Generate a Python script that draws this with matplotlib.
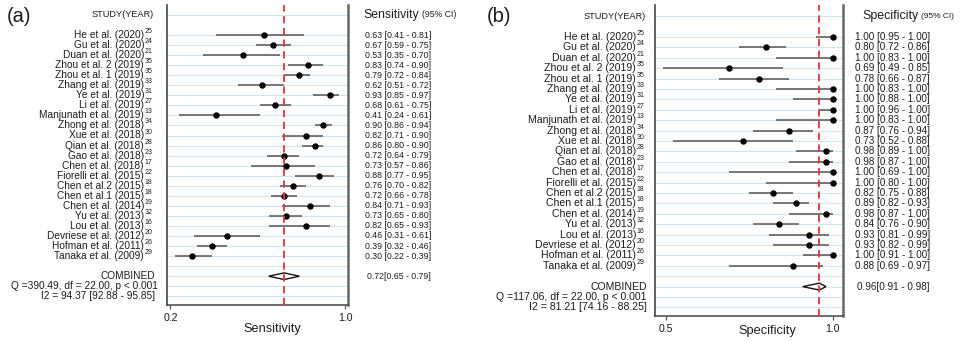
import matplotlib
matplotlib.use('Agg')
import matplotlib.pyplot as plt
from matplotlib.patches import Polygon

plt.rcParams['font.family'] = ['Liberation Sans', 'DejaVu Sans']

W, H = 965, 342

studies = ["He et al. (2020)", "Gu et al. (2020)", "Duan et al. (2020)", "Zhou et al. 2 (2019)",
           "Zhou et al. 1 (2019)", "Zhang et al. (2019)", "Ye et al. (2019)", "Li et al. (2019)",
           "Manjunath et al. (2019)", "Zhong et al. (2018)", "Xue et al. (2018)", "Qian et al. (2018)",
           "Gao et al. (2018)", "Chen et al. (2018)", "Fiorelli et al. (2015)", "Chen et al.2 (2015)",
           "Chen et al.1 (2015)", "Chen et al. (2014)", "Yu et al. (2013)", "Lou et al. (2013)",
           "Devriese et al. (2012)", "Hofman et al. (2011)", "Tanaka et al. (2009)"]
refs = ["25", "24", "21", "35", "35", "33", "31", "27", "13", "34", "30", "28", "23", "17",
        "22", "18", "18", "19", "32", "16", "20", "26", "29"]

sens = [0.63, 0.67, 0.53, 0.83, 0.79, 0.62, 0.93, 0.68, 0.41, 0.90, 0.82, 0.86, 0.72, 0.73,
        0.88, 0.76, 0.72, 0.84, 0.73, 0.82, 0.46, 0.39, 0.30]
sens_lo = [0.41, 0.59, 0.35, 0.74, 0.72, 0.51, 0.85, 0.61, 0.24, 0.86, 0.71, 0.80, 0.64, 0.57,
           0.77, 0.70, 0.66, 0.71, 0.65, 0.65, 0.31, 0.32, 0.22]
sens_hi = [0.81, 0.75, 0.70, 0.90, 0.84, 0.72, 0.97, 0.75, 0.61, 0.94, 0.90, 0.90, 0.79, 0.86,
           0.95, 0.82, 0.78, 0.93, 0.80, 0.93, 0.61, 0.46, 0.39]
sens_comb = (0.72, 0.65, 0.79)
sens_stats = ["Q =390.49, df = 22.00, p < 0.001", "I2 = 94.37 [92.88 - 95.85]"]

spec = [1.00, 0.80, 1.00, 0.69, 0.78, 1.00, 1.00, 1.00, 1.00, 0.87, 0.73, 0.98, 0.98, 1.00,
        1.00, 0.82, 0.89, 0.98, 0.84, 0.93, 0.93, 1.00, 0.88]
spec_lo = [0.95, 0.72, 0.83, 0.49, 0.66, 0.83, 0.88, 0.96, 0.83, 0.76, 0.52, 0.89, 0.87, 0.69,
           0.80, 0.75, 0.82, 0.87, 0.76, 0.81, 0.82, 0.91, 0.69]
spec_hi = [1.00, 0.86, 1.00, 0.85, 0.87, 1.00, 1.00, 1.00, 1.00, 0.94, 0.88, 1.00, 1.00, 1.00,
           1.00, 0.88, 0.93, 1.00, 0.90, 0.99, 0.99, 1.00, 0.97]
spec_comb = (0.96, 0.91, 0.98)
spec_stats = ["Q =117.06, df = 22.00, p < 0.001", "I2 = 81.21 [74.16 - 88.25]"]

fig = plt.figure(figsize=(W / 100, H / 100), dpi=100)
TXT = '#1c1c1c'


def fx(px):
    return px / W


def fy(py):
    return 1 - py / H


def panel(tag, tag_x, est, lo, hi, comb, stats, metric, ticks,
          left, right, top, bottom, row0, sp, xlim,
          lab_right, stat_right, val_x, hdr_x, fs_lab, fs_val, fs_hdr, fs_ci,
          xlabel_pos):
    ax = fig.add_axes([fx(left), fy(bottom), fx(right - left), (bottom - top) / H])
    top_row = (top - row0) / sp
    bot_row = (bottom - row0) / sp
    ax.set_xlim(*xlim)
    ax.set_ylim(bot_row, top_row)
    n = len(est)
    rows = list(range(n))
    for r in [-2] + list(range(0, 27)):
        ax.axhline(r, color='#d3e5f0', lw=0.8, zorder=0)
    ax.hlines(rows, lo, hi, color='#555555', lw=1.1, zorder=2)
    ax.plot(est, rows, 'o', color='black', ms=3.6, zorder=3)
    crow = n + 1
    c, cl, ch = comb
    ax.add_patch(Polygon([(cl, crow), (c, crow - 0.33), (ch, crow), (c, crow + 0.33)],
                         closed=True, facecolor='white', edgecolor='#111111', lw=1.0, zorder=4))
    ax.axvline(c, color='#e8303a', ls=(0, (4, 2.5)), lw=1.3, zorder=5)
    ax.set_yticks([])
    ax.set_xticks(ticks)
    ax.set_xticklabels(['%.1f' % t for t in ticks])
    ax.tick_params(axis='x', length=3, width=0.9, color='#555555', labelsize=7.6,
                   pad=3, labelcolor=TXT)
    ax.spines['top'].set_visible(False)
    ax.spines['left'].set_color('#444444')
    ax.spines['left'].set_linewidth(1.2)
    ax.spines['right'].set_color('#666666')
    ax.spines['right'].set_linewidth(1.8)
    ax.spines['bottom'].set_color('#444444')
    ax.spines['bottom'].set_linewidth(1.1)

    def ypx(r):
        return row0 + r * sp

    # panel tag
    fig.text(fx(tag_x), fy(17), tag, fontsize=14.5, color=TXT, ha='left', va='center')
    # headers
    fig.text(fx(lab_right + 10), fy(ypx(-2)), "STUDY(YEAR)", fontsize=6.6, color=TXT,
             ha='right', va='center')
    t = fig.text(fx(hdr_x), fy(ypx(-2)), metric, fontsize=fs_hdr, color=TXT,
                 ha='left', va='center')
    fig.canvas.draw()
    bb = t.get_window_extent()
    fig.text(bb.x1 / W + fx(3), fy(ypx(-2)), "(95% CI)", fontsize=fs_ci, color=TXT,
             ha='left', va='center')
    # study labels
    for i in range(n):
        y = ypx(i)
        fig.text(fx(lab_right), fy(y), studies[i], fontsize=fs_lab, color=TXT,
                 ha='right', va='center')
        fig.text(fx(lab_right + 0.5), fy(y - 3.5), refs[i], fontsize=5.0, color=TXT,
                 ha='left', va='center')
        fig.text(fx(val_x), fy(y), "%.2f [%.2f - %.2f]" % (est[i], lo[i], hi[i]),
                 fontsize=fs_val, color=TXT, ha='left', va='center')
    fig.text(fx(lab_right + 11), fy(ypx(crow)), "COMBINED", fontsize=fs_lab, color=TXT,
             ha='right', va='center')
    fig.text(fx(stat_right), fy(ypx(crow + 1)), stats[0], fontsize=fs_lab, color=TXT,
             ha='right', va='center')
    fig.text(fx(lab_right + 11), fy(ypx(crow + 2)), stats[1], fontsize=fs_lab, color=TXT,
             ha='right', va='center')
    fig.text(fx(val_x + 2), fy(ypx(crow)), "%.2f[%.2f - %.2f]" % comb, fontsize=fs_val,
             color=TXT, ha='left', va='center')
    fig.text(fx(xlabel_pos[0]), fy(xlabel_pos[1]), metric, fontsize=9.2, color=TXT,
             ha='center', va='center')
    return ax


panel("(a)", 7, sens, sens_lo, sens_hi, sens_comb, sens_stats, "Sensitivity", [0.2, 1.0],
      166.7, 347.7, 5, 305, 35, 10.05, (0.183, 1.011),
      144, 158, 365, 363, 7.3, 6.3, 8.8, 6.3, (272, 329))
panel("(b)", 487, spec, spec_lo, spec_hi, spec_comb, spec_stats, "Specificity", [0.5, 1.0],
      655, 843, 5, 316, 37, 10.4, (0.4672, 1.0309),
      636, 647, 855, 862, 7.6, 7.1, 8.9, 6.0, (767, 331))

fig.savefig('out.png', dpi=100)
